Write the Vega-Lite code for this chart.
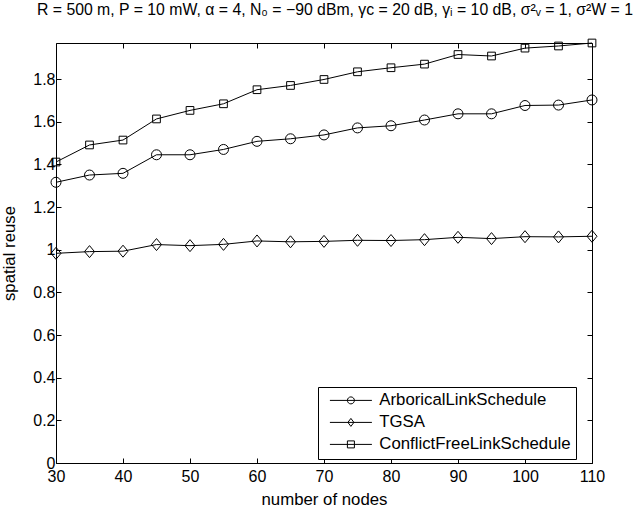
{
  "$schema": "https://vega.github.io/schema/vega-lite/v6.json",
  "width": 536,
  "height": 420,
  "autosize": {"type": "none"},
  "padding": {"left": 56, "top": 43, "right": 42, "bottom": 47},
  "background": "white",
  "title": {
    "text": "R = 500 m, P = 10 mW, α = 4, N₀ = −90 dBm, γc = 20 dB, γᵢ = 10 dB, σ²ᵥ = 1, σ²W = 1",
    "font": "Liberation Sans",
    "fontSize": 15.8,
    "fontWeight": "normal",
    "color": "black",
    "anchor": "middle",
    "frame": "group",
    "offset": 18,
    "dx": 11
  },
  "config": {
    "view": {"stroke": "black", "strokeWidth": 1},
    "axis": {
      "labelFont": "Liberation Sans",
      "labelFontSize": 16,
      "labelColor": "black",
      "labelFlush": false,
      "labelOverlap": false,
      "titleFont": "Liberation Sans",
      "titleFontSize": 16.8,
      "titleFontWeight": "normal",
      "titleColor": "black",
      "domain": false,
      "grid": false,
      "tickColor": "black",
      "tickSize": -5,
      "tickWidth": 1
    }
  },
  "data": {
    "values": [
      {"nodes": 30, "series": "ArboricalLinkSchedule", "reuse": 1.316},
      {"nodes": 35, "series": "ArboricalLinkSchedule", "reuse": 1.350},
      {"nodes": 40, "series": "ArboricalLinkSchedule", "reuse": 1.358},
      {"nodes": 45, "series": "ArboricalLinkSchedule", "reuse": 1.445},
      {"nodes": 50, "series": "ArboricalLinkSchedule", "reuse": 1.445},
      {"nodes": 55, "series": "ArboricalLinkSchedule", "reuse": 1.470},
      {"nodes": 60, "series": "ArboricalLinkSchedule", "reuse": 1.508},
      {"nodes": 65, "series": "ArboricalLinkSchedule", "reuse": 1.520},
      {"nodes": 70, "series": "ArboricalLinkSchedule", "reuse": 1.538},
      {"nodes": 75, "series": "ArboricalLinkSchedule", "reuse": 1.571},
      {"nodes": 80, "series": "ArboricalLinkSchedule", "reuse": 1.581},
      {"nodes": 85, "series": "ArboricalLinkSchedule", "reuse": 1.608},
      {"nodes": 90, "series": "ArboricalLinkSchedule", "reuse": 1.637},
      {"nodes": 95, "series": "ArboricalLinkSchedule", "reuse": 1.637},
      {"nodes": 100, "series": "ArboricalLinkSchedule", "reuse": 1.676},
      {"nodes": 105, "series": "ArboricalLinkSchedule", "reuse": 1.678},
      {"nodes": 110, "series": "ArboricalLinkSchedule", "reuse": 1.702},
      {"nodes": 30, "series": "TGSA", "reuse": 0.983},
      {"nodes": 35, "series": "TGSA", "reuse": 0.991},
      {"nodes": 40, "series": "TGSA", "reuse": 0.993},
      {"nodes": 45, "series": "TGSA", "reuse": 1.024},
      {"nodes": 50, "series": "TGSA", "reuse": 1.019},
      {"nodes": 55, "series": "TGSA", "reuse": 1.025},
      {"nodes": 60, "series": "TGSA", "reuse": 1.041},
      {"nodes": 65, "series": "TGSA", "reuse": 1.037},
      {"nodes": 70, "series": "TGSA", "reuse": 1.039},
      {"nodes": 75, "series": "TGSA", "reuse": 1.044},
      {"nodes": 80, "series": "TGSA", "reuse": 1.043},
      {"nodes": 85, "series": "TGSA", "reuse": 1.047},
      {"nodes": 90, "series": "TGSA", "reuse": 1.058},
      {"nodes": 95, "series": "TGSA", "reuse": 1.052},
      {"nodes": 100, "series": "TGSA", "reuse": 1.061},
      {"nodes": 105, "series": "TGSA", "reuse": 1.060},
      {"nodes": 110, "series": "TGSA", "reuse": 1.063},
      {"nodes": 30, "series": "ConflictFreeLinkSchedule", "reuse": 1.411},
      {"nodes": 35, "series": "ConflictFreeLinkSchedule", "reuse": 1.491},
      {"nodes": 40, "series": "ConflictFreeLinkSchedule", "reuse": 1.514},
      {"nodes": 45, "series": "ConflictFreeLinkSchedule", "reuse": 1.613},
      {"nodes": 50, "series": "ConflictFreeLinkSchedule", "reuse": 1.653},
      {"nodes": 55, "series": "ConflictFreeLinkSchedule", "reuse": 1.684},
      {"nodes": 60, "series": "ConflictFreeLinkSchedule", "reuse": 1.750},
      {"nodes": 65, "series": "ConflictFreeLinkSchedule", "reuse": 1.770},
      {"nodes": 70, "series": "ConflictFreeLinkSchedule", "reuse": 1.798},
      {"nodes": 75, "series": "ConflictFreeLinkSchedule", "reuse": 1.834},
      {"nodes": 80, "series": "ConflictFreeLinkSchedule", "reuse": 1.853},
      {"nodes": 85, "series": "ConflictFreeLinkSchedule", "reuse": 1.870},
      {"nodes": 90, "series": "ConflictFreeLinkSchedule", "reuse": 1.915},
      {"nodes": 95, "series": "ConflictFreeLinkSchedule", "reuse": 1.908},
      {"nodes": 100, "series": "ConflictFreeLinkSchedule", "reuse": 1.945},
      {"nodes": 105, "series": "ConflictFreeLinkSchedule", "reuse": 1.955},
      {"nodes": 110, "series": "ConflictFreeLinkSchedule", "reuse": 1.969}
    ]
  },
  "layer": [
    {
      "mark": {"type": "line", "color": "black", "strokeWidth": 1},
      "encoding": {
        "x": {
          "field": "nodes", "type": "quantitative",
          "scale": {"domain": [30, 110], "nice": false, "zero": false},
          "axis": {"values": [30, 40, 50, 60, 70, 80, 90, 100, 110], "title": "number of nodes", "labelPadding": 10, "titlePadding": 7, "orient": "bottom"}
        },
        "y": {
          "field": "reuse", "type": "quantitative",
          "scale": {"domain": [0, 1.969], "nice": false, "zero": false},
          "axis": {"values": [0, 0.2, 0.4, 0.6, 0.8, 1, 1.2, 1.4, 1.6, 1.8], "format": "~g", "title": "spatial reuse", "labelPadding": 6, "titlePadding": 14, "orient": "left"}
        },
        "detail": {"field": "series", "type": "nominal"}
      }
    },
    {
      "transform": [{"filter": "datum.series === 'ArboricalLinkSchedule'"}],
      "mark": {"type": "point", "filled": false, "stroke": "black", "strokeWidth": 1, "size": 196, "opacity": 1,
               "shape": "M-0.714,0A0.714,0.714 0 1,0 0.714,0A0.714,0.714 0 1,0 -0.714,0Z"},
      "encoding": {
        "x": {"field": "nodes", "type": "quantitative", "axis": null},
        "y": {"field": "reuse", "type": "quantitative", "axis": null}
      }
    },
    {
      "transform": [{"filter": "datum.series === 'TGSA'"}],
      "mark": {"type": "point", "filled": false, "stroke": "black", "strokeWidth": 1, "size": 196, "opacity": 1,
               "shape": "M0,-0.857L0.714,0L0,0.857L-0.714,0Z"},
      "encoding": {
        "x": {"field": "nodes", "type": "quantitative", "axis": null},
        "y": {"field": "reuse", "type": "quantitative", "axis": null}
      }
    },
    {
      "transform": [{"filter": "datum.series === 'ConflictFreeLinkSchedule'"}],
      "mark": {"type": "point", "filled": false, "stroke": "black", "strokeWidth": 1, "size": 196, "opacity": 1,
               "shape": "M-0.55,-0.55L0.55,-0.55L0.55,0.55L-0.55,0.55Z"},
      "encoding": {
        "x": {"field": "nodes", "type": "quantitative", "axis": null},
        "y": {"field": "reuse", "type": "quantitative", "axis": null}
      }
    },
    {
      "mark": {"type": "point", "filled": false, "stroke": "black", "strokeWidth": 1, "opacity": 0},
      "encoding": {
        "x": {"field": "nodes", "type": "quantitative", "axis": null},
        "y": {"field": "reuse", "type": "quantitative", "axis": null},
        "shape": {
          "field": "series", "type": "nominal",
          "scale": {
            "domain": ["ArboricalLinkSchedule", "TGSA", "ConflictFreeLinkSchedule"],
            "range": [
              "M-3,0L3,0M-0.5,0A0.5,0.5 0 1,0 0.5,0A0.5,0.5 0 1,0 -0.5,0Z",
              "M-3,0L3,0M0,-0.57L0.43,0L0,0.57L-0.43,0Z",
              "M-3,0L3,0M-0.5,-0.5L0.5,-0.5L0.5,0.5L-0.5,0.5Z"
            ]
          },
          "legend": {
            "title": null,
            "orient": "none",
            "legendX": 262,
            "legendY": 344,
            "direction": "vertical",
            "strokeColor": "black",
            "fillColor": "white",
            "padding": 5,
            "symbolOffset": 19.5,
            "symbolSize": 196,
            "symbolOpacity": 1,
            "symbolStrokeColor": "black",
            "symbolStrokeWidth": 1,
            "symbolFillColor": "transparent",
            "labelFont": "Liberation Sans",
            "labelFontSize": 16.8,
            "labelColor": "black",
            "labelOffset": 20,
            "labelLimit": 400,
            "rowPadding": 4
          }
        }
      }
    },
    {
      "mark": {"type": "point", "opacity": 0},
      "encoding": {
        "x": {
          "field": "nodes", "type": "quantitative",
          "axis": {"orient": "top", "values": [30, 40, 50, 60, 70, 80, 90, 100, 110], "labels": false, "title": null}
        },
        "y": {
          "field": "reuse", "type": "quantitative",
          "axis": {"orient": "right", "values": [0, 0.2, 0.4, 0.6, 0.8, 1, 1.2, 1.4, 1.6, 1.8], "labels": false, "title": null}
        }
      }
    }
  ],
  "resolve": {"axis": {"x": "independent", "y": "independent"}}
}
